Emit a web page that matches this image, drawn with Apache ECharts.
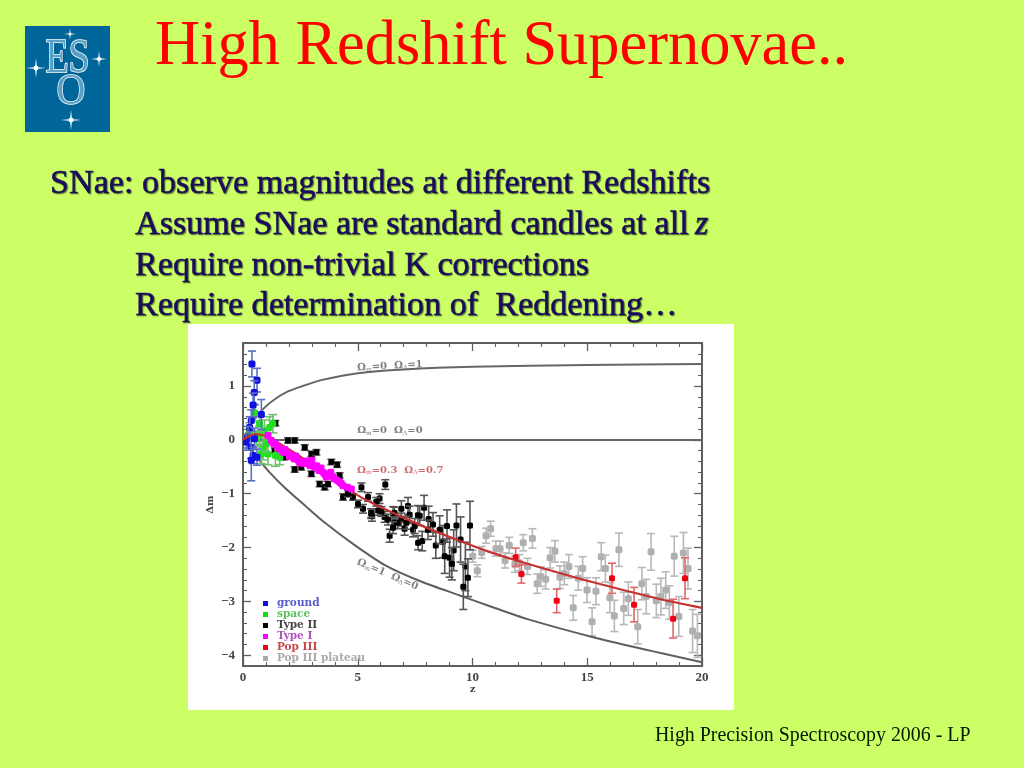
<!DOCTYPE html>
<html><head><meta charset="utf-8">
<style>html,body{margin:0;padding:0;background:#ccff66}#c{width:1024px;height:768px}</style>
<script src="https://cdn.jsdelivr.net/npm/echarts@6/dist/echarts.min.js"></script>
</head><body><div id="c"></div>
<script>
// [z, dm, err]
const ground=[[0.39,1.41,.24],[0.61,1.11,.22],[0.49,.88,.22],[0.44,.65,.22],[0.8,.47,.28],[0.36,.36,.2],[0.29,.23,.2],[0.22,.05,.2],[0.36,-.14,.2],[0.44,-.29,.15],[0.36,-.38,.38],[0.61,-.32,.15],[0.5,.02,.2],[0.14,-.04,.15]];
const space=[[.51,.5,.15],[1.16,.23,.2],[.94,.17,.2],[.72,.08,.18],[.58,.02,.15],[.87,-.17,.2],[1.09,-.26,.2],[1.41,-.29,.2],[.8,-.26,.18],[1.3,.3,.17],[.29,.17,.15],[.72,.3,.15],[1.02,-.07,.15],[1.6,-.32,.14]];
const typeII=[[1.41,.31,.05],[6.2,-.83,.09],[4.1,-.46,.05],[2.25,-.55,.05],[3.34,-.82,.05],[4.36,-1.06,.06],[5.16,-.88,.08],[5.95,-1.09,.09],[5.59,-1.37,.09],[6.9,-1.28,.15],[7.19,-1.23,.16],[7.89,-1.26,.23],[7.62,-1.4,.18],[6.54,-1.37,.13],[5.81,-1.15,.08],[5.23,-1.28,.08],[4.79,-1.06,.06],[4.21,-.66,.05],[2.98,-.26,.05],[1.96,-.01,.05],[2.25,-.01,.05],[1.8,-.32,.05],[2.54,-.51,.05],[1.38,-.2,.05],[2.98,-.63,.05],[3.56,-.88,.05],[4.57,-1,.06],[2.69,-.14,.05],[3.85,-.41,.05],[5.01,-1.19,.07],[6.17,-1.43,.1],[2.32,-.35,.05],[3.2,-.23,.05],[3.7,-.82,.05],[5.45,-1.06,.08],[5.88,-1.31,.09],[5.62,-1.41,.1],[6.39,-1.78,.12],[7.63,-1.91,.13],[7.81,-1.88,.18],[8.4,-1.96,.24],[8.71,-1.89,.3],[8.79,-2.16,.32],[9.0,-2.19,.36],[9.18,-2.05,.38],[9.1,-2.3,.3],[9.3,-1.59,.4],[9.48,-1.85,.42],[9.69,-2.35,.45],[9.8,-2.56,.35],[9.6,-2.73,.42],[9.89,-1.59,.45],[8.09,-1.47,.24],[8.28,-1.57,.22],[8.57,-1.67,.26],[8.89,-1.6,.3],[6.9,-1.48,.12],[7.26,-1.39,.16],[7.7,-1.41,.18],[6.6,-1.36,.11],[6.32,-1.48,.1],[6.6,-1.54,.1],[6.75,-1.54,.11],[7.04,-1.65,.12],[7.41,-1.67,.13],[7.48,-1.6,.14],[8.06,-1.67,.18],[6.03,-1.33,.09],[5.59,-1.36,.08],[6.54,-1.63,.11],[7.12,-1.54,.12]];
const typeI=[[1.09,.08,.03],[1.23,-.01,.03],[1.41,-.07,.03],[1.6,-.17,.03],[1.74,-.23,.03],[1.92,-.23,.03],[2.11,-.29,.03],[2.22,-.35,.03],[2.4,-.38,.03],[2.54,-.41,.03],[2.69,-.44,.03],[2.83,-.44,.03],[3.0,-.38,.03],[3.12,-.51,.03],[3.31,-.57,.03],[3.49,-.6,.03],[3.63,-.69,.03],[3.82,-.6,.03],[3.99,-.72,.03],[4.21,-.78,.03],[4.36,-.85,.03],[4.55,-.88,.03],[4.72,-.91,.03],[1.32,-.06,.03],[1.5,-.13,.03],[1.83,-.18,.03],[2.02,-.31,.03],[2.3,-.3,.03],[2.47,-.43,.03],[2.76,-.39,.03],[2.92,-.48,.03],[3.21,-.48,.03],[3.4,-.52,.03],[3.56,-.64,.03],[3.72,-.66,.03],[3.9,-.68,.03],[4.1,-.75,.03],[4.28,-.81,.03]];
const popIII=[[11.88,-2.18,.17],[12.13,-2.49,.17],[13.67,-2.99,.22],[16.08,-2.57,.28],[17.04,-3.06,.32],[18.74,-3.32,.36],[19.26,-2.57,.38]];
const plateau=[[10.79,-1.65,.14],[10.59,-1.78,.14],[10.40,-2.09,.11],[10.21,-2.43,.11],[10.01,-2.16,.11],[11.02,-2.02,.14],[11.20,-2.02,.14],[11.42,-2.24,.14],[11.60,-1.96,.15],[11.85,-2.31,.15],[12.04,-2.28,.15],[12.21,-1.91,.15],[12.40,-2.35,.15],[12.61,-1.83,.18],[12.82,-2.67,.18],[12.98,-2.54,.18],[13.19,-2.59,.18],[13.38,-2.19,.19],[13.59,-2.07,.2],[13.81,-2.55,.21],[14.0,-2.48,.21],[14.2,-2.35,.22],[14.39,-3.12,.23],[14.61,-2.57,.22],[14.80,-2.39,.22],[14.99,-2.79,.23],[15.21,-3.38,.26],[15.38,-2.81,.25],[15.61,-2.17,.26],[15.79,-2.39,.25],[15.99,-2.93,.28],[16.18,-3.27,.29],[16.38,-2.04,.31],[16.59,-3.13,.3],[16.79,-2.95,.31],[17.2,-3.47,.32],[17.38,-2.67,.3],[17.57,-2.91,.32],[17.78,-2.08,.34],[18.01,-2.99,.31],[18.21,-2.91,.34],[18.42,-2.79,.34],[18.58,-3.02,.31],[18.79,-2.16,.37],[18.99,-3.28,.37],[19.19,-2.1,.38],[19.39,-2.39,.38],[19.59,-3.55,.4],[19.8,-3.64,.4]];
const curveOpen=[[0,0],[.25,.22],[.5,.38],[.94,.6],[1.4,.76],[1.96,.9],[2.6,1.0],[3.4,1.11],[5,1.24],[7,1.31],[10,1.36],[15,1.39],[20,1.41]];
const curveEmpty=[[0,0],[20,0]];
const curveFlat=[[0,0],[.5,.11],[1.1,.05],[1.8,-.12],[2.5,-.31],[3.7,-.65],[5,-1.03],[6.2,-1.29],[7.6,-1.56],[9.4,-1.87],[10.67,-2.07],[12.4,-2.3],[15.3,-2.65],[18.2,-2.96],[20,-3.12]];
const curveEdS=[[0,0],[.5,-.27],[1.09,-.57],[1.8,-.88],[2.7,-1.22],[3.6,-1.55],[4.85,-1.95],[6.2,-2.33],[7.76,-2.63],[9.45,-2.89],[10.7,-3.08],[12.4,-3.33],[15.3,-3.67],[18.2,-3.96],[20,-4.13]];
const yMajor=[-4,-3,-2,-1,0,1];
const yMinor=[-4.2,-3.8,-3.6,-3.4,-3.2,-2.8,-2.6,-2.4,-2.2,-1.8,-1.6,-1.4,-1.2,-.8,-.6,-.4,-.2,.2,.4,.6,.8,1.2,1.4,1.6,1.8];
const titleText='High Redshift Supernovae..';
const bodyLines=['SNae: observe magnitudes at different Redshifts','Assume SNae are standard candles at all ','Require non-trivial K corrections','Require determination of  Reddening…'];
const footer='High Precision Spectroscopy 2006 - LP';

const AX='#5f5f5f', SERIF='"Liberation Serif",serif', PLOT='"DejaVu Serif",serif';
function errs(name,data,ptColor,barColor,size,cap,z){
  return {type:'custom',name,z,coordinateSystem:'cartesian2d',data,itemStyle:{color:ptColor},
    encode:{x:0,y:1},clip:true,
    renderItem(p,api){
      const x=api.value(0),y=api.value(1),e=api.value(2);
      const c=api.coord([x,y]),t=api.coord([x,y+e]),b=api.coord([x,y-e]);
      const st={stroke:barColor,lineWidth:1.6,fill:null};
      return {type:'group',children:[
        {type:'line',shape:{x1:c[0],y1:t[1],x2:c[0],y2:b[1]},style:st},
        {type:'line',shape:{x1:c[0]-cap,y1:t[1],x2:c[0]+cap,y2:t[1]},style:st},
        {type:'line',shape:{x1:c[0]-cap,y1:b[1],x2:c[0]+cap,y2:b[1]},style:st},
        {type:'rect',shape:{x:c[0]-size/2,y:c[1]-size/2,width:size,height:size,r:size/4},style:{fill:ptColor}}
      ]};
    }};
}
function line(name,data,color,w,z){
  return {type:'line',name,data,z,showSymbol:false,symbol:'none',smooth:0.25,lineStyle:{color,width:w},silent:true};
}
function omegaLabel(at,m,l,color,rot){
  const s={fontFamily:PLOT,fontSize:10,color,fontWeight:'bold'};
  const b={fontFamily:PLOT,fontSize:6,color,padding:[5,0,0,0]};
  return {value:at,symbolSize:0,label:{show:true,position:'inside',rotate:rot,
    formatter:`{o|Ω}{s|m}{o|=${m}  Ω}{s|Λ}{o|=${l}}`,rich:{o:s,s:b}}};
}
const curveLabels=[omegaLabel([6.4,1.37],'0','1',AX,3),omegaLabel([6.4,.17],'0','0',AX,0),
  omegaLabel([6.85,-.56],'0.3','0.7','#c04848',0),omegaLabel([6.3,-2.5],'1','0',AX,-23)];

function star(cx,cy,r){
  const pts=[],n=16;
  for(let i=0;i<n;i++){const a=i*Math.PI/8, k=i%4===0?r:(i%2===0?r*.3:r*.22);pts.push([cx+k*Math.sin(a),cy-k*Math.cos(a)]);}
  return {type:'polygon',shape:{points:pts},style:{fill:'#fff'},z:12};
}
function logoText(t,x,y,size,sy){
  return {type:'text',x,y,z:12,scaleY:sy,style:{text:t,fontFamily:SERIF,fontSize:size,fill:'#5aa0c4',stroke:'#fff',lineWidth:1.3,textAlign:'center',textVerticalAlign:'middle'}};
}
const SH={textShadowColor:'rgba(20,50,0,.55)',textShadowBlur:1,textShadowOffsetX:1,textShadowOffsetY:1};
const bodyPos=[[50,184],[135,225],[135,266],[135,306]];
const bodyTexts=bodyLines.map((t,i)=>({type:'text',x:bodyPos[i][0],y:bodyPos[i][1],z:12,
  style:{text:t,fontFamily:SERIF,fontSize:34.15,fill:'#1c0a60',stroke:'#1c0a60',lineWidth:.5,...SH,textVerticalAlign:'middle'}}));

const chart=echarts.init(document.getElementById('c'),null,{renderer:'canvas'});
chart.setOption({
  animation:false,backgroundColor:'#ccff66',
  grid:{left:243,right:322,top:343,bottom:102,show:false},
  legend:{left:263,top:598,padding:0,orient:'vertical',itemWidth:5,itemHeight:5,itemGap:0,icon:'rect',selectedMode:false,
    textStyle:{fontFamily:PLOT,fontSize:10.5,fontWeight:'bold',lineHeight:10.6,padding:[0,0,0,4]},
    data:[{name:'ground',textStyle:{color:'#5a5ad0'},itemStyle:{color:'#1010e0'}},{name:'space',textStyle:{color:'#5cc05c'},itemStyle:{color:'#10e010'}},
      {name:'Type II',textStyle:{color:'#444'},itemStyle:{color:'#000'}},{name:'Type I',textStyle:{color:'#b050c0'},itemStyle:{color:'#ff00ff'}},
      {name:'Pop III',textStyle:{color:'#c84848'},itemStyle:{color:'#ee0010'}},{name:'Pop III plateau',textStyle:{color:'#aaa'},itemStyle:{color:'#aaa'}}]},
  xAxis:[
    {type:'value',min:0,max:20,interval:5,position:'bottom',
     axisLine:{show:true,onZero:false,lineStyle:{color:AX,width:2}},axisTick:{inside:true,length:8,lineStyle:{color:AX,width:1.3}},
     minorTick:{show:true,splitNumber:5,length:4,lineStyle:{color:AX,width:1.1}},splitLine:{show:false},
     axisLabel:{color:'#444',fontFamily:SERIF,fontSize:13,fontWeight:'bold',margin:5},
     name:'z',nameLocation:'middle',nameGap:15,nameTextStyle:{color:'#444',fontFamily:PLOT,fontSize:10,fontWeight:'bold'}},
    {type:'value',min:0,max:20,interval:5,position:'top',
     axisLine:{show:true,onZero:false,lineStyle:{color:AX,width:2}},axisTick:{inside:true,length:8,lineStyle:{color:AX,width:1.3}},
     minorTick:{show:true,splitNumber:5,length:4,lineStyle:{color:AX,width:1.1}},splitLine:{show:false},axisLabel:{show:false}}
  ],
  yAxis:[
    {type:'value',min:-4.2,max:1.8,position:'left',
     axisLine:{show:true,onZero:false,lineStyle:{color:AX,width:2}},axisTick:{show:true,inside:true,length:8,customValues:yMajor,lineStyle:{color:AX,width:1.3}},
     splitLine:{show:false},axisLabel:{show:true,customValues:yMajor,color:'#444',fontFamily:SERIF,fontSize:13,fontWeight:'bold',margin:8,formatter:v=>String(v).replace('-','−')},
     name:'Δm',nameLocation:'middle',nameRotate:90,nameGap:28,nameTextStyle:{color:'#444',fontFamily:PLOT,fontSize:10,fontWeight:'bold'}},
    {type:'value',min:-4.2,max:1.8,position:'left',axisLine:{show:false,onZero:false},axisLabel:{show:false,customValues:yMinor},splitLine:{show:false},
     axisTick:{show:true,inside:true,length:4,customValues:yMinor,lineStyle:{color:AX,width:1.1}}},
    {type:'value',min:-4.2,max:1.8,position:'right',axisLine:{show:true,onZero:false,lineStyle:{color:AX,width:2}},axisLabel:{show:false,customValues:yMajor},splitLine:{show:false},
     axisTick:{show:true,inside:true,length:8,customValues:yMajor,lineStyle:{color:AX,width:1.3}}},
    {type:'value',min:-4.2,max:1.8,position:'right',axisLine:{show:false,onZero:false},axisLabel:{show:false,customValues:yMinor},splitLine:{show:false},
     axisTick:{show:true,inside:true,length:4,customValues:yMinor,lineStyle:{color:AX,width:1.1}}}
  ],
  series:[
    errs('Pop III plateau',plateau,'#b0b0b0','#b8b8b8',7,4,3),
    line('open',curveOpen,'#666',2,4),line('empty',curveEmpty,'#666',2,4),line('EdS',curveEdS,'#5f5f5f',2,4),
    errs('Type II',typeII,'#000','#555',6,4,5),
    errs('Pop III',popIII,'#ee0010','#e06868',6,4,6),
    errs('space',space,'#20e020','#70c070',7,4.5,7),
    errs('ground',ground,'#1010e0','#5a70c0',7,4,8),
    line('flat',curveFlat,'#c83030',2.2,9),
    errs('Type I',typeI,'#ff00ff','#e060e0',7,1.5,10),
    {type:'scatter',data:curveLabels,z:11,silent:true,symbolSize:0,name:'labels'}
  ],
  graphic:{elements:[
    {type:'rect',shape:{x:188,y:324,width:546,height:386},style:{fill:'#fff'},z:-10,silent:true},
    {type:'rect',shape:{x:25,y:26,width:85,height:106},style:{fill:'#006699'},z:11},
    star(70,34,6),star(36,68,10),star(99,59,8),star(71,120,10),
    logoText('E',57,60,38,1.25),logoText('S',79,60,38,1.25),logoText('O',71,92,40,1.1),
    {type:'text',x:155,y:48,z:12,style:{text:titleText,fontFamily:SERIF,fontSize:62.4,fill:'#ff0000',textVerticalAlign:'middle'}},
    ...bodyTexts,
    {type:'text',x:695,y:225,z:12,style:{text:'z',fontFamily:SERIF,fontSize:34,fontStyle:'italic',fill:'#1c0a60',stroke:'#1c0a60',lineWidth:.5,textVerticalAlign:'middle',...SH}},
    {type:'text',x:655,y:736,z:12,style:{text:footer,fontFamily:SERIF,fontSize:19.9,fill:'#001a00',textVerticalAlign:'middle'}}
  ]}
});
</script></body></html>
